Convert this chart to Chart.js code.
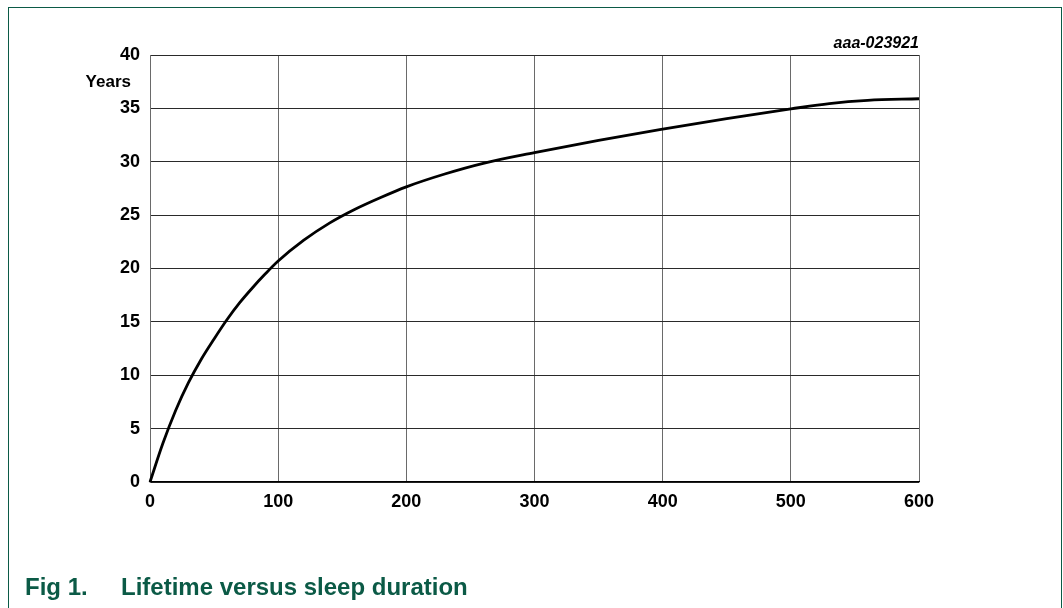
<!DOCTYPE html>
<html>
<head>
<meta charset="utf-8">
<script src="https://cdn.jsdelivr.net/npm/chart.js@4"></script>
<style>
  html, body { margin: 0; padding: 0; background: #fff; }
  #wrap { position: relative; width: 1063px; height: 608px; overflow: hidden; }
  #frame { position: absolute; left: 8px; top: 7px; width: 1054px; height: 640px; border: 1px solid #0b5a46; box-sizing: border-box; }
  canvas { position: absolute; left: 0; top: 0; }
  .cap { position: absolute; top: 573px; font-family: "Liberation Sans", Arial, sans-serif; font-weight: bold; font-size: 24px; color: #0b5a46; white-space: nowrap; }
</style>
</head>
<body>
<div id="wrap">
  <div id="frame"></div>
  <canvas id="c" width="1063" height="608"></canvas>
  <div class="cap" style="left:25px">Fig 1.</div>
  <div class="cap" style="left:121px">Lifetime versus sleep duration</div>
</div>
<script>
// Sleep duration (x) and lifetime in years (y)
const sleepDuration = [0, 10, 20, 30, 40, 50, 60, 70, 80, 90, 100, 120, 140, 160, 180, 200, 230, 260, 300, 350, 400, 450, 500, 530, 560, 600];
const lifetimeYears = [0, 3.6, 6.7, 9.3, 11.5, 13.4, 15.2, 16.8, 18.2, 19.5, 20.7, 22.65, 24.25, 25.55, 26.65, 27.65, 28.85, 29.85, 30.85, 32.0, 33.05, 34.05, 34.95, 35.45, 35.75, 35.9];
const xTicks = [0, 100, 200, 300, 400, 500, 600];
const yTicks = [0, 5, 10, 15, 20, 25, 30, 35, 40];
const yUnitLabel = 'Years';
const figCode = 'aaa-023921';

const points = sleepDuration.map((x, i) => ({ x: x, y: lifetimeYears[i] }));
const FONT = '"Liberation Sans", Arial, sans-serif';

const textPlugin = {
  id: 'extraText',
  afterDraw(chart) {
    const ctx = chart.ctx;
    const area = chart.chartArea;
    ctx.save();
    ctx.fillStyle = '#000';
    ctx.font = 'bold 17px ' + FONT;
    ctx.textAlign = 'right';
    ctx.textBaseline = 'middle';
    ctx.fillText(yUnitLabel, area.left - 19, area.top + 27);
    ctx.font = 'italic bold 16px ' + FONT;
    ctx.fillText(figCode, area.right, area.top - 11);
    ctx.restore();
  }
};

new Chart(document.getElementById('c'), {
  type: 'line',
  data: {
    datasets: [{
      data: points,
      borderColor: '#000',
      borderWidth: 2.8,
      pointRadius: 0,
      fill: false,
      cubicInterpolationMode: 'monotone',
      clip: false
    }]
  },
  options: {
    responsive: false,
    animation: false,
    devicePixelRatio: 1,
    layout: { padding: { left: 110, top: 55, right: 144, bottom: 96 } },
    plugins: { legend: { display: false }, tooltip: { enabled: false }, title: { display: false } },
    scales: {
      x: {
        type: 'linear',
        min: 0, max: 600,
        afterBuildTicks(scale) { scale.ticks = xTicks.map(v => ({ value: v })); },
        afterFit(scale) { scale.height = 30; },
        grid: { color: '#6a6a6a', lineWidth: 1, drawTicks: false },
        border: { color: '#000', width: 1.2 },
        ticks: { color: '#000', padding: 9, font: { family: FONT, size: 18, weight: 'bold' }, maxRotation: 0 }
      },
      y: {
        type: 'linear',
        min: 0, max: 40,
        afterBuildTicks(scale) { scale.ticks = yTicks.map(v => ({ value: v })); },
        afterFit(scale) { scale.width = 40; },
        grid: { color: '#2a2a2a', lineWidth: 1, drawTicks: false },
        border: { color: '#6a6a6a', width: 1 },
        ticks: { color: '#000', padding: 10, font: { family: FONT, size: 18, weight: 'bold' } }
      }
    }
  },
  plugins: [textPlugin]
});
</script>
</body>
</html>
